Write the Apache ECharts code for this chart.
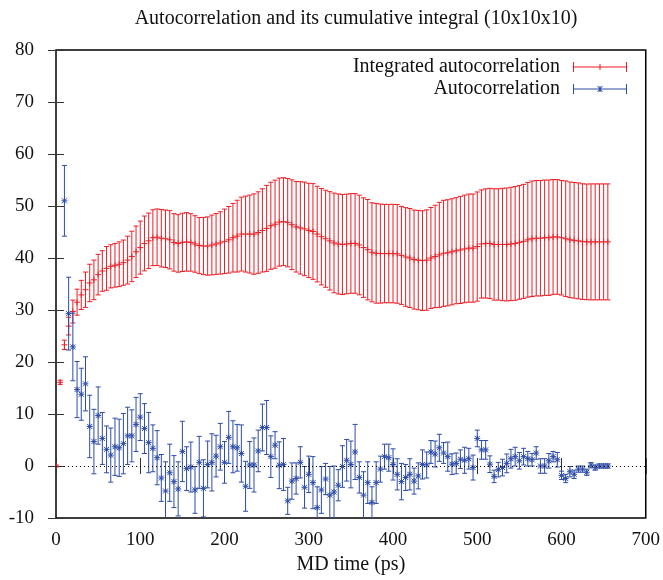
<!DOCTYPE html>
<html>
<head>
<meta charset="utf-8">
<script src="https://cdn.jsdelivr.net/npm/echarts@6/dist/echarts.min.js"></script>
<style>
html,body{margin:0;padding:0;background:#fff}
#main{width:663px;height:580px}
</style>
</head>
<body>
<div id="main"></div>
<script>
// MD time samples (ps)
var times = [
	0,5,10,15,20,25,30,35,40,45,
	50,55,60,65,70,75,80,85,90,95,
	100,105,110,115,120,125,130,135,140,145,
	150,155,160,165,170,175,180,185,190,195,
	200,205,210,215,220,225,230,235,240,245,
	250,255,260,265,270,275,280,285,290,295,
	300,305,310,315,320,325,330,335,340,345,
	350,355,360,365,370,375,380,385,390,395,
	400,405,410,415,420,425,430,435,440,445,
	450,455,460,465,470,475,480,485,490,495,
	500,505,510,515,520,525,530,535,540,545,
	550,555,560,565,570,575,580,585,590,595,
	600,605,610,615,620,625,630,635,640,645,
	650,655
];

var integVal = [
	0,16.1,23.3,26.9,29.7,31.5,32.9,33.9,35.2,35.8,
	36.8,37.5,38.0,38.4,38.6,38.8,39.1,39.6,40.3,41.2,
	42.0,42.8,43.3,43.9,44.0,43.8,43.7,43.5,43.0,42.8,
	43.0,43.1,43.0,42.7,42.4,42.3,42.3,42.5,42.7,42.9,
	43.2,43.5,43.9,44.2,44.6,44.6,44.6,44.6,44.9,45.3,
	45.7,46.2,46.5,46.9,47.0,46.8,46.4,46.0,45.8,45.6,
	45.3,45.1,44.6,44.1,43.7,43.3,42.9,42.7,42.6,42.7,
	42.8,42.8,42.5,42.0,41.6,41.1,40.9,40.85,40.85,40.85,
	40.85,40.8,40.5,40.2,40.0,39.7,39.6,39.5,39.6,40.0,
	40.3,40.6,40.9,41.0,41.2,41.4,41.55,41.75,41.9,41.9,
	42.2,42.7,42.8,42.8,42.6,42.6,42.6,42.6,42.7,42.8,
	43.0,43.2,43.5,43.7,43.8,43.8,43.9,43.9,44.05,44.05,
	43.9,43.7,43.5,43.4,43.3,43.15,43.1,43.1,43.1,43.1,
	43.1,43.1
];
var integErr = [
	0.2,0.4,0.9,1.7,2.2,2.5,2.8,3.4,3.6,3.8,
	3.9,3.9,4.2,4.15,4.2,4.3,4.35,4.6,4.85,4.95,
	5.1,5.27,5.34,5.37,5.43,5.53,5.53,5.6,5.53,5.53,
	5.6,5.62,5.53,5.43,5.4,5.5,5.6,5.75,5.85,6.0,
	6.2,6.4,6.6,6.9,7.1,7.3,7.5,7.73,7.83,8.0,
	8.27,8.37,8.47,8.47,8.43,8.5,8.63,8.7,8.88,9.0,
	9.07,9.2,9.2,9.27,9.33,9.46,9.58,9.62,9.62,9.58,
	9.58,9.58,9.58,9.58,9.65,9.52,9.58,9.52,9.46,9.46,
	9.46,9.5,9.42,9.49,9.52,9.52,9.55,9.58,9.65,9.71,
	9.84,10.1,10.2,10.2,10.2,10.2,10.3,10.35,10.4,10.4,
	10.5,10.4,10.5,10.6,10.7,10.7,10.8,10.86,10.9,10.93,
	10.93,10.96,11.02,11.1,11.1,11.1,11.09,11.09,11.05,11.02,
	11.02,11.12,11.12,11.12,11.15,11.12,11.12,11.15,11.15,11.15,
	11.15,11.15
];

// autocorrelation starts at 10 ps (earlier points are off the chart)
var autoTimes = times.slice(2);
var autoVal = [
	51.0,29.3,22.9,14.7,13.8,15.8,7.6,4.7,9.7,5.3,
	3.2,2.1,3.7,3.5,4.3,5.8,5.8,8.0,9.4,7.2,
	4.5,3.4,1.6,-2.3,-4.8,-1.3,-3.0,-4.4,2.8,-0.5,
	-0.2,-4.6,0.7,-4.3,0.3,0.7,1.9,3.7,0.7,5.5,
	3.7,3.5,2.4,-3.9,0.2,0.2,2.9,7.4,7.4,1.8,
	4.0,0.15,0.3,-6.7,-2.9,-2.4,0.7,-4.1,-1.6,-3.2,
	-8.0,-4.6,-2.5,-5.6,-5.0,-3.7,-0.1,1.1,0.3,2.7,
	-2.2,-5.6,-3.2,-7.0,-3.2,-0.6,1.8,1.6,0.3,-1.6,
	-3.0,-2.2,-1.6,-2.9,-1.9,0.3,0.2,2.7,2.3,3.5,
	2.5,1.8,0.35,0.5,1.3,1.1,1.4,-0.3,5.3,3.1,
	3.1,0.35,-2.0,-0.7,-0.3,0.5,1.4,1.8,1.0,1.8,
	1.4,1.2,2.5,0,0,1.0,1.8,1.2,-1.8,-2.4,
	-1.1,-1.6,-0.6,-0.6,-1.2,0.15,-0.3,0,0,0
];
var autoErr = [
	6.8,7.0,6.5,5.4,5.0,5.2,6.0,6.2,5.5,5.0,
	4.5,5.2,5.5,5.5,5.8,5.5,5.0,5.2,4.5,4.8,
	5.8,4.5,5.2,4.5,5.6,5.5,5.0,5.2,5.8,4.2,
	4.8,4.5,5.0,5.5,4.5,5.5,4.0,4.5,4.0,5.0,
	5.0,4.5,5.5,4.8,4.5,5.2,4.0,4.5,5.2,4.0,
	2.6,4.5,5.0,2.6,3.5,3.0,3.0,4.0,3.5,5.0,
	4.0,4.5,3.0,5.5,5.0,3.0,4.0,4.0,4.5,5.3,
	3.0,4.5,4.0,3.0,4.0,2.5,2.4,2.6,3.0,3.0,
	3.5,2.5,3.0,2.5,2.5,2.8,2.5,2.2,2.5,2.6,
	2.0,2.8,2.0,2.0,1.8,2.5,2.0,2.4,1.6,1.8,
	1.8,1.6,1.2,1.4,1.6,1.8,1.8,1.8,1.6,1.6,
	1.4,1.2,1.2,1.4,1.4,1.4,1.0,1.4,0.8,0.8,
	1.0,0.8,0.6,0.6,0.6,0.5,0.5,0.4,0.4,0.4
];

var xTicks = [0, 700, 100];
var yTicks = [-10, 80, 10];

var red = '#ee1c24';
var blue = '#2d4ca8';
var font = 'Liberation Serif';

function pack(t, v, e){
	var out = [];
	for(var i=0;i<t.length;i++){
		out.push([t[i], v[i], e[i]]);
	}
	return out;
}

function errorBars(color, marker){
	return function(params, api){
		var x = api.value(0), y = api.value(1), e = api.value(2);
		var c = api.coord([x, y]);
		var top = api.coord([x, y + e])[1];
		var bot = api.coord([x, y - e])[1];
		var st = {stroke: color, lineWidth: 1};
		var cap = 2.5, m = 3;
		var kids = [
			{type:'line', shape:{x1:c[0], y1:top, x2:c[0], y2:bot}, style:st},
			{type:'line', shape:{x1:c[0]-cap, y1:top, x2:c[0]+cap, y2:top}, style:st},
			{type:'line', shape:{x1:c[0]-cap, y1:bot, x2:c[0]+cap, y2:bot}, style:st},
			{type:'line', shape:{x1:c[0]-m, y1:c[1], x2:c[0]+m, y2:c[1]}, style:st},
			{type:'line', shape:{x1:c[0], y1:c[1]-m, x2:c[0], y2:c[1]+m}, style:st}
		];
		if(marker=='star'){
			kids.push({type:'line', shape:{x1:c[0]-2.5, y1:c[1]-2.5, x2:c[0]+2.5, y2:c[1]+2.5}, style:st});
			kids.push({type:'line', shape:{x1:c[0]-2.5, y1:c[1]+2.5, x2:c[0]+2.5, y2:c[1]-2.5}, style:st});
		}
		return {type:'group', children:kids};
	};
}

var barIcon = 'path://M0,0H1V4.5H53V0H54V10H53V5.5H1V10H0Z';
var redIcon = barIcon + 'M26.5,2H27.5V8H26.5Z';
var blueIcon = barIcon + 'M26.5,2H27.5V8H26.5ZM24,2L25,2L30,8L29,8ZM29,2L30,2L25,8L24,8Z';

function mirrorAxis(pos, r){
	return {
		type:'value', position:pos, min:r[0], max:r[1], interval:r[2],
		axisLine:{show:false},
		axisTick:{show:true, inside:true, length:8, lineStyle:{color:'#333', width:1}},
		splitLine:{show:false},
		axisLabel:{show:false}
	};
}

var xMain = mirrorAxis('bottom', xTicks);
xMain.axisLabel = {show:true, fontFamily:font, fontSize:19, color:'#111', margin:13};
xMain.name = 'MD time (ps)';
xMain.nameLocation = 'middle';
xMain.nameGap = 37;
xMain.nameTextStyle = {fontFamily:font, fontSize:20, color:'#111'};

var yMain = mirrorAxis('left', yTicks);
yMain.axisLabel = {show:true, fontFamily:font, fontSize:19, color:'#111', margin:22};

var option = {
	backgroundColor:'#fff',
	animation:false,
	title:{
		text:'Autocorrelation and its cumulative integral (10x10x10)',
		left:351, top:4, textAlign:'center',
		textStyle:{fontFamily:font, fontSize:20, fontWeight:'normal', color:'#111'}
	},
	legend:{
		right:36, top:57, orient:'vertical', align:'right',
		itemWidth:54, itemHeight:10, itemGap:2, padding:0,
		symbolKeepAspect:false, selectedMode:false,
		textStyle:{fontFamily:font, fontSize:20, color:'#111', padding:[0,8,0,0]},
		data:[
			{name:'Integrated autocorrelation', icon:redIcon},
			{name:'Autocorrelation', icon:blueIcon}
		]
	},
	grid:{left:56, right:12, top:50, bottom:61, show:true, borderColor:'#000', borderWidth:1.5},
	xAxis:[xMain, mirrorAxis('top', xTicks)],
	yAxis:[yMain, mirrorAxis('right', yTicks)],
	series:[
		{
			name:'Integrated autocorrelation',
			type:'custom',
			clip:true,
			itemStyle:{color:red},
			renderItem:errorBars(red, 'plus'),
			encode:{x:0, y:1},
			data:pack(times, integVal, integErr)
		},
		{
			name:'Autocorrelation',
			type:'custom',
			clip:true,
			itemStyle:{color:blue},
			renderItem:errorBars(blue, 'star'),
			encode:{x:0, y:1},
			data:pack(autoTimes, autoVal, autoErr),
			markLine:{
				silent:true, symbol:'none', label:{show:false},
				lineStyle:{color:'#000', type:[1,3], width:1},
				data:[{yAxis:0}]
			}
		}
	]
};

var myChart = echarts.init(document.getElementById('main'));
myChart.setOption(option);
</script>
</body>
</html>
